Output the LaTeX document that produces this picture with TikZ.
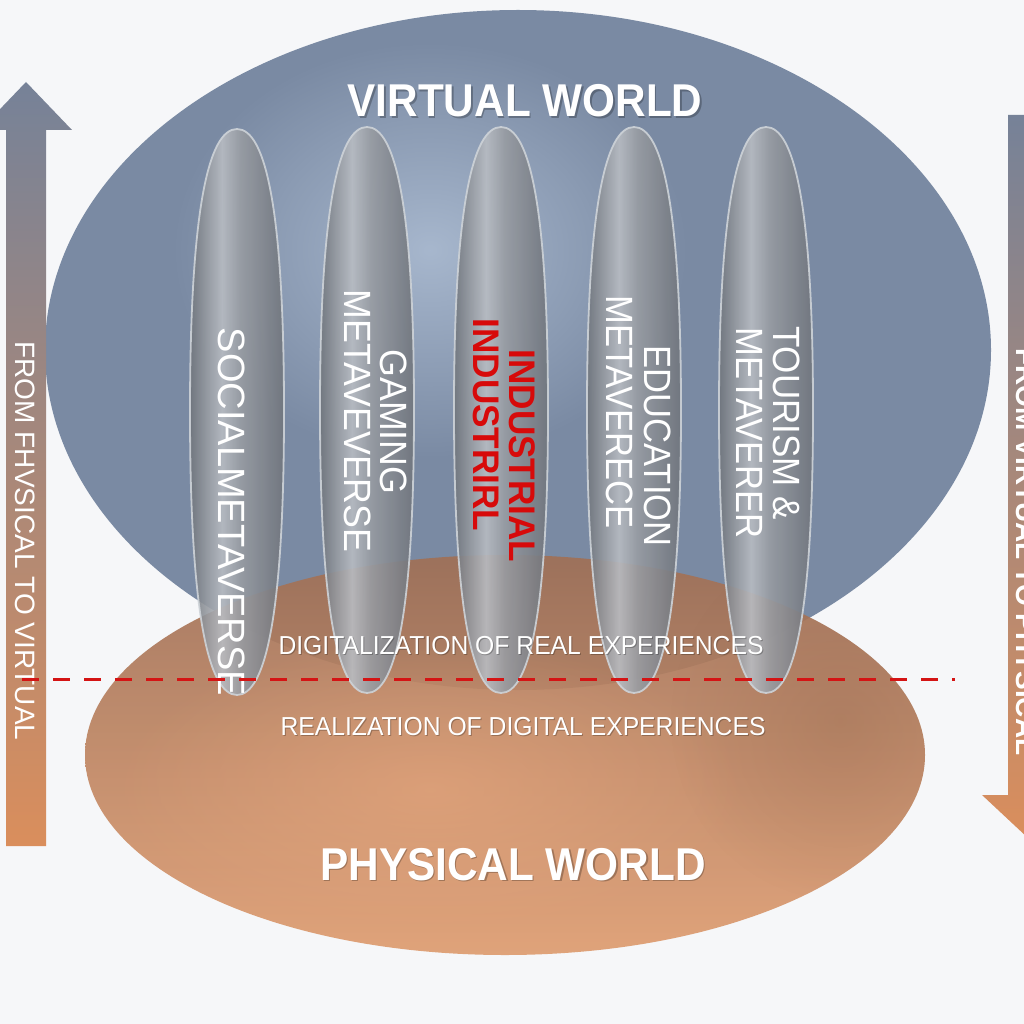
\documentclass[tikz,border=0pt]{standalone}
\usepackage{fontspec}
\setmainfont{Liberation Sans}
\usetikzlibrary{fadings}
\definecolor{bgc}{RGB}{246,247,249}
\definecolor{vwblue}{RGB}{122,138,163}
\definecolor{vwglow}{RGB}{172,188,210}
\definecolor{orTop}{RGB}{160,112,86}
\definecolor{orBot}{RGB}{222,156,112}
\definecolor{orGlow}{RGB}{232,168,126}
\definecolor{orDark}{RGB}{150,104,78}
\definecolor{pA}{RGB}{112,117,124}
\definecolor{pB}{RGB}{184,188,194}
\definecolor{pC}{RGB}{152,156,162}
\definecolor{pD}{RGB}{128,132,139}
\definecolor{pEdge}{RGB}{206,211,216}
\definecolor{arTop}{RGB}{118,130,152}
\definecolor{arMid}{RGB}{165,140,135}
\definecolor{arBot}{RGB}{218,142,92}
\definecolor{dred}{RGB}{212,20,20}
\definecolor{ired}{RGB}{215,10,10}
\pgfdeclarehorizontalshading{pillarshade}{100bp}{color(0bp)=(pA); color(25bp)=(pA); color(34bp)=(pC); color(42bp)=(pB); color(52bp)=(pC); color(66bp)=(pD); color(75bp)=(pA); color(100bp)=(pA)}
\tikzfading[name=glowfade, inner color=transparent!0, outer color=transparent!100]
\tikzset{
  pillarbody/.style={shading=pillarshade, draw=pEdge, line width=1.8pt, fill opacity=0.9, draw opacity=0.9},
  pillarpic/.pic={
    \shade[pillarbody] (0,-283) .. controls (29,-283) and (47,-200) .. (47,0)
      .. controls (47,200) and (29,283) .. (0,283)
      .. controls (-29,283) and (-47,200) .. (-47,0)
      .. controls (-47,-200) and (-29,-283) .. cycle;
  },
  ptext/.style={rotate=-90, anchor=base, text=white, font=\fontsize{38}{42}\selectfont, inner sep=0pt},
  redtext/.style={ptext, text=ired, font=\bfseries\fontsize{37}{42}\selectfont},
  title/.style={anchor=base, text=white, font=\bfseries\fontsize{46}{50}\selectfont, inner sep=0pt},
  tshadow/.style={title, text=black, text opacity=0.25},
  midtext/.style={anchor=base, text=white, font=\fontsize{26}{30}\selectfont, inner sep=0pt},
  midshadow/.style={midtext, text=black, text opacity=0.25},
  arrowtext/.style={rotate=-90, anchor=base, text=white, font=\fontsize{28}{32}\selectfont, inner sep=0pt},
  dashline/.style={draw=dred, line width=3pt, dash pattern=on 17pt off 14pt},
  arrowshade/.style={top color=arTop, middle color=arMid, bottom color=arBot}
}
\begin{document}
\begin{tikzpicture}[x=1pt,y=-1pt]
\useasboundingbox (0,0) rectangle (1024,1024);
\fill[bgc] (0,0) rectangle (1024,1024);

% virtual world ellipse
\fill[vwblue] (518,350) ellipse [x radius=473, y radius=340];
\begin{scope}
\clip (518,350) ellipse [x radius=473, y radius=340];
\fill[vwglow, path fading=glowfade, fill opacity=0.9] (430,250) ellipse [x radius=260, y radius=210];
\end{scope}

% physical world ellipse
\shade[top color=orTop, bottom color=orBot, fill opacity=0.92] (505,755) ellipse [x radius=420, y radius=200];
\begin{scope}
\clip (505,755) ellipse [x radius=420, y radius=200];
\fill[orGlow, path fading=glowfade, fill opacity=0.6] (430,790) ellipse [x radius=320, y radius=150];
\fill[orDark, path fading=glowfade, fill opacity=0.35] (840,720) ellipse [x radius=170, y radius=180];
\end{scope}

% arrows
\shade[arrowshade] (6,846) -- (6,130) -- (-20,130) -- (26,82) -- (72,130) -- (46,130) -- (46,846) -- cycle;
\shade[arrowshade] (1008,115) -- (1008,795) -- (982,795) -- (1028,838) -- (1074,795) -- (1048,795) -- (1048,115) -- cycle;
\node[arrowtext] (lt) at (16,541) {FROM FHVSICAL TO VIRTUAL};
\node[arrowtext, font=\bfseries\fontsize{28}{32}\selectfont] (rt) at (1016,552) {FROM VIRTUAL TO PHYSICAL};

% pillars
\pic (p1) at (237,412) {pillarpic};
\pic (p2) at (367,410) {pillarpic};
\pic (p3) at (501,410) {pillarpic};
\pic (p4) at (634,410) {pillarpic};
\pic (p5) at (766,410) {pillarpic};

% pillar texts
\node[ptext] (t1) at (218.5,512) {SOCIALMETAVERSE};
\node[ptext] (t2a) at (380.5,422) {\scalebox{0.94}[1]{GAMING}};
\node[ptext] (t2b) at (344.5,421) {\scalebox{0.94}[1]{METAVEVERSE}};
\node[redtext] (t3a) at (509.8,456) {\scalebox{0.95}[1]{INDUSTRIAL}};
\node[redtext] (t3b) at (473.8,425) {\scalebox{0.95}[1]{INDUSTRIRL}};
\node[ptext] (t4a) at (644.5,446) {\scalebox{0.91}[1]{EDUCATION}};
\node[ptext] (t4b) at (606.5,412) {\scalebox{0.91}[1]{METAVERECE}};
\node[ptext] (t5a) at (773.5,423) {\scalebox{0.92}[1]{TOURISM \&}};
\node[ptext] (t5b) at (736.5,433) {\scalebox{0.91}[1]{METAVERER}};

% titles
\node[tshadow] (vws) at (526.5,118.5) {\scalebox{0.92}[1]{VIRTUAL WORLD}};
\node[title] (vw) at (525,117) {\scalebox{0.92}[1]{VIRTUAL WORLD}};
\node[tshadow] (pws) at (514.5,881.5) {\scalebox{0.92}[1]{PHYSICAL WORLD}};
\node[title] (pw) at (513,880) {\scalebox{0.92}[1]{PHYSICAL WORLD}};

% dashed boundary
\coordinate (dl) at (22,679);
\coordinate (dr) at (955,679);
\draw[dashline] (dl) -- (dr);

\node[midshadow] (digs) at (522,655) {\scalebox{0.95}[1]{DIGITALIZATION OF REAL EXPERIENCES}};
\node[midtext] (dig) at (521,654) {\scalebox{0.95}[1]{DIGITALIZATION OF REAL EXPERIENCES}};
\node[midshadow] (reas) at (524,736) {\scalebox{0.95}[1]{REALIZATION OF DIGITAL EXPERIENCES}};
\node[midtext] (rea) at (523,735) {\scalebox{0.95}[1]{REALIZATION OF DIGITAL EXPERIENCES}};
\end{tikzpicture}
\end{document}
